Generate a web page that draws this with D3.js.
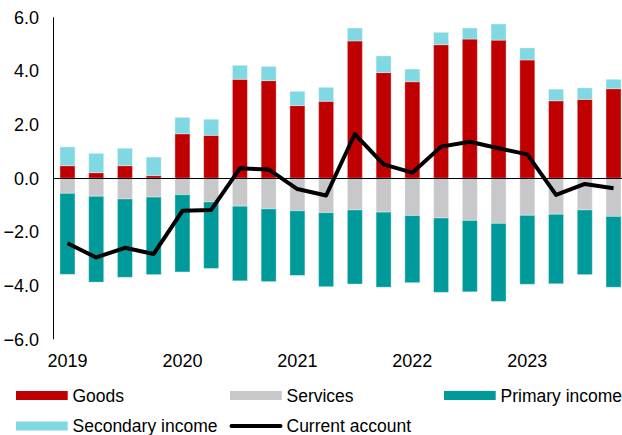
<!DOCTYPE html>
<html>
<head>
<meta charset="utf-8">
<script src="https://cdn.jsdelivr.net/npm/d3@7"></script>
<style>
  html, body { margin: 0; padding: 0; background: #fff; }
  svg { display: block; }
  text { font-family: "Liberation Sans", Arial, sans-serif; fill: #000; }
</style>
</head>
<body>
<svg id="chart" width="622" height="435"></svg>
<script>
// Quarterly current account components, 2019Q1 – 2023Q4
const quarters = [
  "2019Q1","2019Q2","2019Q3","2019Q4",
  "2020Q1","2020Q2","2020Q3","2020Q4",
  "2021Q1","2021Q2","2021Q3","2021Q4",
  "2022Q1","2022Q2","2022Q3","2022Q4",
  "2023Q1","2023Q2","2023Q3","2023Q4"
];
const goods     = [0.47, 0.21, 0.47, 0.10, 1.66, 1.60, 3.69, 3.64, 2.71, 2.87,
                   5.12, 3.94, 3.60, 4.98, 5.19, 5.15, 4.41, 2.89, 2.94, 3.34];
const services  = [-0.56, -0.67, -0.77, -0.70, -0.61, -0.88, -1.04, -1.14, -1.21, -1.28,
                   -1.18, -1.26, -1.39, -1.48, -1.57, -1.68, -1.38, -1.34, -1.18, -1.42];
const primary   = [-3.02, -3.20, -2.92, -2.89, -2.88, -2.48, -2.78, -2.71, -2.41, -2.76,
                   -2.76, -2.80, -2.50, -2.77, -2.66, -2.91, -2.57, -2.59, -2.41, -2.64];
const secondary = [0.70, 0.72, 0.65, 0.69, 0.61, 0.60, 0.52, 0.53, 0.53, 0.52,
                   0.48, 0.62, 0.47, 0.46, 0.41, 0.60, 0.45, 0.43, 0.43, 0.35];
const currentAccount = [-2.42, -2.95, -2.59, -2.82, -1.21, -1.18, 0.37, 0.33, -0.40, -0.64,
                        1.65, 0.52, 0.21, 1.18, 1.36, 1.12, 0.89, -0.62, -0.21, -0.37];
const yearLabels = ["2019", "2020", "2021", "2022", "2023"];
const yTicks = [6, 4, 2, 0, -2, -4, -6];

const seriesNames  = ["Goods", "Services", "Primary income", "Secondary income"];
const seriesColors = ["#c00000", "#c8c8ca", "#009a9a", "#80d8e2"];
const seriesValues = [goods, services, primary, secondary];

const svg = d3.select("#chart");
const FONT = '"Liberation Sans", Arial, sans-serif';

const x = d3.scaleBand()
  .domain(quarters)
  .range([53.1, 627.9])
  .paddingInner(0.478)
  .paddingOuter(0.239);

const y = d3.scaleLinear().domain([-6, 6]).range([339.3, 17.3]);

// Stack positives upward and negatives downward from zero
const rows = quarters.map((q, i) => {
  const r = { q };
  seriesNames.forEach((n, k) => { r[n] = seriesValues[k][i]; });
  return r;
});
const stacked = d3.stack()
  .keys(seriesNames)
  .offset(d3.stackOffsetDiverging)(rows);

const bars = svg.append("g");
stacked.forEach((layer, k) => {
  bars.append("g")
    .attr("fill", seriesColors[k])
    .selectAll("rect")
    .data(layer)
    .join("rect")
      .attr("x", d => x(d.data.q))
      .attr("width", x.bandwidth())
      .attr("y", d => y(Math.max(d[0], d[1])))
      .attr("height", d => Math.abs(y(d[0]) - y(d[1])))
      .attr("stroke", "#ffffff")
      .attr("stroke-opacity", 0.35)
      .attr("stroke-width", 1);
});

// Zero line
svg.append("line")
  .attr("x1", 53.5).attr("x2", 622)
  .attr("y1", Math.round(y(0)) + 0.5).attr("y2", Math.round(y(0)) + 0.5)
  .attr("stroke", "#000").attr("stroke-width", 1);

// Y axis
const yAxis = svg.append("g")
  .attr("transform", "translate(53.5,0)")
  .call(d3.axisLeft(y).tickValues(yTicks).tickFormat(d3.format(".1f")).tickSize(0).tickPadding(14.5));
yAxis.select(".domain").attr("stroke", "#000").attr("d", `M0,${y(6)}V${y(-6)}`);
yAxis.selectAll("text")
  .style("font-family", FONT)
  .style("font-size", "18px")
  .attr("fill", "#000");

// Current account line
svg.append("path")
  .datum(currentAccount)
  .attr("fill", "none")
  .attr("stroke", "#000")
  .attr("stroke-width", 4)
  .attr("stroke-linejoin", "round")
  .attr("d", d3.line()
    .x((d, i) => x(quarters[i]) + x.bandwidth() / 2)
    .y(d => y(d)));

// Year labels under the first quarter of each year
svg.append("g").selectAll("text")
  .data(yearLabels)
  .join("text")
    .attr("x", d => x(d + "Q1") + x.bandwidth() / 2)
    .attr("y", 366.5)
    .attr("text-anchor", "middle")
    .style("font-size", "18px")
    .text(d => d);

// Legend
const legendItems = [
  { name: "Goods", color: seriesColors[0], type: "rect", col: 0, row: 0 },
  { name: "Services", color: seriesColors[1], type: "rect", col: 1, row: 0 },
  { name: "Primary income", color: seriesColors[2], type: "rect", col: 2, row: 0 },
  { name: "Secondary income", color: seriesColors[3], type: "rect", col: 0, row: 1 },
  { name: "Current account", color: "#000", type: "line", col: 1, row: 1 }
];
const legend = svg.append("g");
legendItems.forEach(it => {
  const lx = 16 + it.col * 214;
  const ly = 395.5 + it.row * 30.5;
  const g = legend.append("g");
  if (it.type === "rect") {
    g.append("rect").attr("x", lx).attr("y", ly - 4.5).attr("width", 51.7).attr("height", 9).attr("fill", it.color);
  } else {
    g.append("line").attr("x1", lx + 1.5).attr("x2", lx + 50.5).attr("y1", ly).attr("y2", ly)
      .attr("stroke", it.color).attr("stroke-width", 4).attr("stroke-linecap", "round");
  }
  g.append("text").attr("x", lx + 56.5).attr("y", ly + 6).style("font-size", "17.5px").text(it.name);
});
</script>
</body>
</html>
